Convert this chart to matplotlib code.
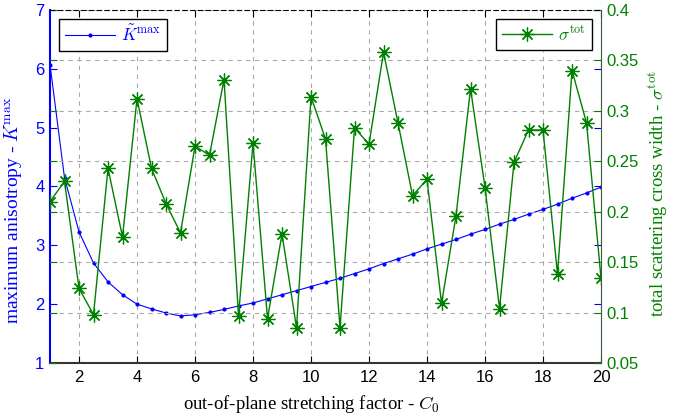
import numpy as np
import matplotlib
matplotlib.use('Agg')
import matplotlib.pyplot as plt

plt.rcParams['mathtext.fontset'] = 'cm'

# stretching factor C0
c0 = [1, 1.5, 2, 2.5, 3, 3.5, 4, 4.5, 5, 5.5, 6, 6.5, 7, 7.5, 8, 8.5, 9, 9.5, 10,
      10.5, 11, 11.5, 12, 12.5, 13, 13.5, 14, 14.5, 15, 15.5, 16, 16.5, 17, 17.5,
      18, 18.5, 19, 19.5, 20]
# maximum anisotropy
kmax = [6.07, 4.15, 3.23, 2.70, 2.38, 2.16, 2.00, 1.92, 1.85, 1.80, 1.82, 1.86,
        1.91, 1.97, 2.02, 2.09, 2.16, 2.23, 2.30, 2.37, 2.44, 2.52, 2.60, 2.69,
        2.77, 2.85, 2.94, 3.02, 3.10, 3.19, 3.27, 3.36, 3.44, 3.53, 3.61, 3.70,
        3.80, 3.89, 3.99]
# total scattering cross width
sigma = [0.210, 0.230, 0.124, 0.098, 0.243, 0.175, 0.312, 0.243, 0.208, 0.179,
         0.265, 0.256, 0.331, 0.097, 0.268, 0.094, 0.178, 0.085, 0.314, 0.272,
         0.085, 0.283, 0.267, 0.358, 0.288, 0.216, 0.232, 0.109, 0.196, 0.322,
         0.224, 0.104, 0.249, 0.281, 0.281, 0.138, 0.340, 0.288, 0.134]

blue = (0, 0, 1)
green = (0, 0.5, 0)
tickfont = 'Liberation Sans'
labfont = 'Liberation Serif'

fig = plt.figure(figsize=(6.84, 4.16), dpi=100)
ax1 = fig.add_axes([0.0731, 0.1274, 0.8056, 0.8486])
ax2 = ax1.twinx()

l1, = ax1.plot(c0, kmax, '-', color=blue, lw=0.8, marker='.', ms=4,
               label=r'$\tilde{K}^{\mathrm{max}}$')
l2, = ax2.plot(c0, sigma, '-', color=green, lw=1.0, marker=(8, 2, 0), ms=10,
               mew=0.9, label=r'$\sigma^{\mathrm{tot}}$')

ax1.set_xlim(1, 20)
ax1.set_ylim(1, 7)
ax2.set_ylim(0.05, 0.4)
ax1.set_xticks(np.arange(2, 21, 2))
ax1.set_yticks(np.arange(1, 8, 1))
ax2.set_yticks(np.arange(0.05, 0.41, 0.05))
ax2.set_yticklabels(['0.05', '0.1', '0.15', '0.2', '0.25', '0.3', '0.35', '0.4'])

# grid: vertical from x ticks, horizontal from right axis ticks
ax1.xaxis.grid(True, ls=(0, (4, 4)), color='#aaaaaa', lw=0.8)
ax2.yaxis.grid(True, ls=(0, (4, 4)), color='#aaaaaa', lw=0.8)
ax1.set_axisbelow(True)

ax1.tick_params(axis='x', direction='in', top=True, length=5, labelsize=12,
                colors='black', pad=5)
ax1.tick_params(axis='y', direction='in', right=True, length=5, labelsize=12,
                colors=blue, pad=4)
ax2.tick_params(axis='y', direction='in', left=True, length=5, labelsize=12,
                colors=green, pad=4)
for lab in ax1.get_xticklabels() + ax1.get_yticklabels() + ax2.get_yticklabels():
    lab.set_fontfamily(tickfont)

ax1.spines['left'].set_color(blue)
ax1.spines['left'].set_linewidth(1.5)
ax2.spines['left'].set_visible(False)
ax2.spines['right'].set_color('#3a5a3a')
ax1.spines['right'].set_visible(False)
ax1.spines['bottom'].set_color('#333333')
ax1.spines['bottom'].set_linewidth(1.5)
ax2.spines['bottom'].set_visible(False)
ax1.spines['top'].set_visible(False)
ax2.spines['top'].set_linestyle((0, (4, 3)))
ax2.spines['top'].set_color('black')

ax1.set_xlabel(r'out-of-plane stretching factor - $C_0$', fontsize=13.5,
               fontfamily=labfont)
ax1.xaxis.set_label_coords(0.474, -0.085)
ax1.set_ylabel(r'maximum anisotropy - $\tilde{K}^{\mathrm{max}}$', fontsize=14,
               fontfamily=labfont, color=blue)
ax1.yaxis.set_label_coords(-0.045, 0.433)
ax2.set_ylabel(r'total scattering cross width - $\sigma^{\mathrm{tot}}$',
               fontsize=13.5, fontfamily=labfont, color=green)
ax2.yaxis.set_label_coords(1.082, 0.479)

legkw = dict(fontsize=12.5, fancybox=False, edgecolor='black', framealpha=1,
             handlelength=2.9, handletextpad=0.35, borderpad=0.35,
             borderaxespad=0.5)
leg1 = ax1.legend(handles=[l1], loc='upper left', **legkw)
leg1.get_frame().set_linewidth(1.0)
for t in leg1.get_texts():
    t.set_color(blue)
leg2 = ax2.legend(handles=[l2], loc='upper right', **legkw)
leg2.get_frame().set_linewidth(1.0)
for t in leg2.get_texts():
    t.set_color(green)

fig.savefig('out.png', dpi=100)
